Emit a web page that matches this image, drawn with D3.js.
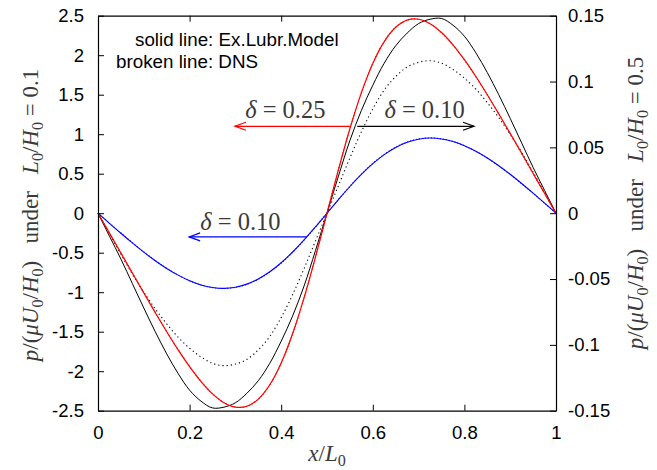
<!DOCTYPE html>
<html>
<head>
<meta charset="utf-8">
<script src="https://cdn.jsdelivr.net/npm/d3@7"></script>
<style>
  body { margin: 0; background: #fff; }
  svg { display: block; }
</style>
</head>
<body>
<svg id="chart" width="657" height="470"></svg>
<script>
// Streamwise position x/L0
const xPos = [0, 0.025, 0.05, 0.075, 0.1, 0.125, 0.15, 0.175, 0.2, 0.225, 0.25, 0.275, 0.3, 0.325, 0.35, 0.375, 0.4, 0.425, 0.45, 0.475,
  0.5, 0.525, 0.55, 0.575, 0.6, 0.625, 0.65, 0.675, 0.7, 0.725, 0.75, 0.775, 0.8, 0.825, 0.85, 0.875, 0.9, 0.925, 0.95, 0.975, 1];

// L0/H0 = 0.1 (left axis): delta = 0.25
const lubrD025 = [0, -0.252, -0.505, -0.758, -1.010, -1.258, -1.500, -1.730, -1.943, -2.132, -2.287, -2.399, -2.455, -2.444, -2.353, -2.172, -1.895, -1.523, -1.069, -0.551,
  0, 0.551, 1.069, 1.523, 1.895, 2.172, 2.353, 2.444, 2.455, 2.399, 2.287, 2.132, 1.943, 1.730, 1.500, 1.258, 1.010, 0.758, 0.505, 0.252, 0];
const dnsD025 = [0, -0.249, -0.500, -0.753, -1.004, -1.253, -1.495, -1.725, -1.939, -2.129, -2.285, -2.398, -2.456, -2.446, -2.356, -2.176, -1.900, -1.528, -1.073, -0.553,
  0, 0.553, 1.073, 1.528, 1.900, 2.176, 2.356, 2.446, 2.456, 2.398, 2.285, 2.129, 1.939, 1.725, 1.495, 1.253, 1.004, 0.753, 0.500, 0.249, 0];

// L0/H0 = 0.1 (left axis): delta = 0.10
const lubrD010 = [0, -0.128, -0.254, -0.376, -0.493, -0.601, -0.699, -0.784, -0.855, -0.908, -0.940, -0.951, -0.937, -0.898, -0.833, -0.742, -0.627, -0.491, -0.338, -0.172,
  0, 0.172, 0.338, 0.491, 0.627, 0.742, 0.833, 0.898, 0.937, 0.951, 0.940, 0.908, 0.855, 0.784, 0.699, 0.601, 0.493, 0.376, 0.254, 0.128, 0];
const dnsD010 = [0, -0.126, -0.251, -0.373, -0.490, -0.599, -0.697, -0.783, -0.855, -0.909, -0.942, -0.953, -0.940, -0.901, -0.836, -0.745, -0.630, -0.494, -0.340, -0.173,
  0, 0.173, 0.340, 0.494, 0.630, 0.745, 0.836, 0.901, 0.940, 0.953, 0.942, 0.909, 0.855, 0.783, 0.697, 0.599, 0.490, 0.373, 0.251, 0.126, 0];

// L0/H0 = 0.5 (right axis): delta = 0.10
const lubrL05 = [0, -0.0174, -0.0348, -0.0534, -0.0720, -0.0900, -0.1068, -0.1218, -0.1344, -0.1428, -0.1479, -0.1473, -0.1440, -0.1368, -0.1272, -0.1140, -0.0972, -0.0780, -0.0552, -0.0282,
  0, 0.0282, 0.0552, 0.0780, 0.0972, 0.1140, 0.1272, 0.1368, 0.1440, 0.1473, 0.1479, 0.1428, 0.1344, 0.1218, 0.1068, 0.0900, 0.0720, 0.0534, 0.0348, 0.0174, 0];
const dnsL05 = [0, -0.0156, -0.0312, -0.0462, -0.0600, -0.0726, -0.0840, -0.0942, -0.1026, -0.1092, -0.1140, -0.1158, -0.1146, -0.1110, -0.1038, -0.0936, -0.0792, -0.0618, -0.0420, -0.0210,
  0, 0.0210, 0.0420, 0.0618, 0.0792, 0.0936, 0.1038, 0.1110, 0.1146, 0.1158, 0.1140, 0.1092, 0.1026, 0.0942, 0.0840, 0.0726, 0.0600, 0.0462, 0.0312, 0.0156, 0];

// Axis ticks
const xTicks = [0, 0.2, 0.4, 0.6, 0.8, 1];
const leftTicks = [-2.5, -2, -1.5, -1, -0.5, 0, 0.5, 1, 1.5, 2, 2.5];
const rightTicks = [-0.15, -0.1, -0.05, 0, 0.05, 0.1, 0.15];

const svg = d3.select("#chart");
const plot = { left: 98, right: 556, top: 15.7, bottom: 410.7 };

const x = d3.scaleLinear().domain([0, 1]).range([plot.left, plot.right]);
const yL = d3.scaleLinear().domain([-2.5, 2.5]).range([plot.bottom, plot.top]);
const yR = d3.scaleLinear().domain([-0.15, 0.15]).range([plot.bottom, plot.top]);

const tickFont = "'Liberation Sans', Arial, Helvetica, sans-serif";
const mathFont = "'Liberation Serif', 'Times New Roman', serif";
const mathColor = "#3a3a3a";

// ---- curves ----
const series = [
  { ys: lubrD010, scale: yL, color: "#0000ff", dash: null, width: 1.1 },
  { ys: dnsD010, scale: yL, color: "#0000ff", dash: "1,2", width: 1.1 },
  { ys: dnsL05, scale: yR, color: "#000000", dash: "1.2,3", width: 1.1 },
  { ys: lubrL05, scale: yR, color: "#000000", dash: null, width: 1 },
  { ys: dnsD025, scale: yL, color: "#ff0000", dash: "1,2", width: 1.1 },
  { ys: lubrD025, scale: yL, color: "#ff0000", dash: null, width: 1.2 }
];

const curves = svg.append("g").attr("class", "curves");
series.forEach(s => {
  const line = d3.line()
    .x((d, i) => x(xPos[i]))
    .y(d => s.scale(d))
    .curve(d3.curveCatmullRom.alpha(0.5));
  curves.append("path")
    .datum(s.ys)
    .attr("d", line)
    .attr("fill", "none")
    .attr("stroke", s.color)
    .attr("stroke-width", s.width)
    .attr("stroke-dasharray", s.dash);
});

// ---- axes (ticks point inward, domains form the frame) ----
function styleAxis(g) {
  g.selectAll("path.domain").attr("stroke", "#000").attr("stroke-width", 1.2);
  g.selectAll(".tick line").attr("stroke", "#000").attr("stroke-width", 1);
  g.selectAll(".tick text").attr("font-family", tickFont).attr("font-size", 18.5).attr("fill", "#000");
}

svg.append("g")
  .attr("transform", `translate(0,${plot.bottom})`)
  .call(d3.axisBottom(x).tickValues(xTicks).tickFormat(d => String(d)).tickSize(-6).tickSizeOuter(0).tickPadding(15))
  .call(styleAxis);

svg.append("g")
  .attr("transform", `translate(0,${plot.top})`)
  .call(d3.axisTop(x).tickValues(xTicks).tickFormat("").tickSize(-6).tickSizeOuter(0))
  .call(styleAxis);

svg.append("g")
  .attr("transform", `translate(${plot.left},0)`)
  .call(d3.axisLeft(yL).tickValues(leftTicks).tickFormat(d => String(d)).tickSize(-6).tickSizeOuter(0).tickPadding(14))
  .call(styleAxis);

svg.append("g")
  .attr("transform", `translate(${plot.right},0)`)
  .call(d3.axisRight(yR).tickValues(rightTicks).tickFormat(d => String(d)).tickSize(-6).tickSizeOuter(0).tickPadding(12))
  .call(styleAxis);

// ---- math-style text helper ----
// parts: [text, style] where style: "i" italic, "r" roman, "s" roman subscript
function mathText(g, parts, size) {
  const t = g.append("text")
    .attr("font-family", mathFont)
    .attr("font-size", size)
    .attr("fill", mathColor)
    .attr("xml:space", "preserve");
  let shifted = false;
  parts.forEach(([str, st]) => {
    const ts = t.append("tspan").text(str);
    if (st === "i") ts.attr("font-style", "italic");
    if (st === "s") {
      ts.attr("font-size", size * 0.7).attr("dy", size * 0.22);
      shifted = true;
    } else if (shifted) {
      ts.attr("dy", -size * 0.22);
      shifted = false;
    }
  });
  return t;
}

// Axis titles
mathText(svg.append("g").attr("transform", "translate(327,461)"),
  [["x", "i"], ["/", "r"], ["L", "i"], ["0", "s"]], 23)
  .attr("text-anchor", "middle");

const yTitleParts = (val) => [
  ["p", "i"], ["/(", "r"], ["μU", "i"], ["0", "s"], ["/", "r"], ["H", "i"], ["0", "s"], [")", "r"],
  ["   under   ", "r"], ["L", "i"], ["0", "s"], ["/", "r"], ["H", "i"], ["0", "s"], [" = " + val, "r"]
];
mathText(svg.append("g").attr("transform", "translate(38,215) rotate(-90)"), yTitleParts("0.1"), 23)
  .attr("text-anchor", "middle");
mathText(svg.append("g").attr("transform", "translate(643,203) rotate(-90)"), yTitleParts("0.5"), 23)
  .attr("text-anchor", "middle");

// ---- legend text ----
svg.append("text").attr("x", 135).attr("y", 46)
  .attr("font-family", tickFont).attr("font-size", 18.8).attr("fill", "#000")
  .text("solid line: Ex.Lubr.Model");
svg.append("text").attr("x", 116).attr("y", 68)
  .attr("font-family", tickFont).attr("font-size", 18.8).attr("fill", "#000")
  .text("broken line: DNS");

// ---- delta annotations with arrows ----
const arrows = [
  { from: 0.550, to: 0.299, y: 1.10, scale: yL, color: "#ff0000" },
  { from: 0.566, to: 0.821, y: 0.066, scale: yR, color: "#000000" },
  { from: 0.456, to: 0.199, y: -0.30, scale: yL, color: "#0000ff" }
];
const deltaLabels = [
  { text: "0.25", x: 0.409, y: 1.21, scale: yL },
  { text: "0.10", x: 0.713, y: 0.0726, scale: yR },
  { text: "0.10", x: 0.311, y: -0.21, scale: yL }
];

const ann = svg.append("g");
arrows.forEach(a => {
  const x0 = x(a.from), x1 = x(a.to), yy = a.scale(a.y);
  const dir = Math.sign(x1 - x0);
  ann.append("line")
    .attr("x1", x0).attr("y1", yy).attr("x2", x1).attr("y2", yy)
    .attr("stroke", a.color).attr("stroke-width", 1.2);
  ann.append("path")
    .attr("d", `M${x1 - dir * 11},${yy - 4}L${x1},${yy}L${x1 - dir * 11},${yy + 4}`)
    .attr("fill", "none").attr("stroke", a.color).attr("stroke-width", 1.2);
});
deltaLabels.forEach(l => {
  mathText(ann.append("g").attr("transform", `translate(${x(l.x)},${l.scale(l.y)})`),
    [["δ", "i"], [" = " + l.text, "r"]], 24.5)
    .attr("text-anchor", "middle");
});
</script>
</body>
</html>
